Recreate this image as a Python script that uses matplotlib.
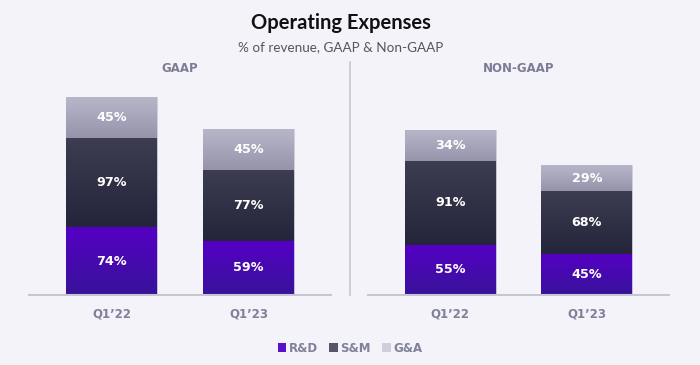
import numpy as np
import matplotlib
matplotlib.use("Agg")
import matplotlib.pyplot as plt
import matplotlib.transforms as mtrans
from matplotlib.colors import LinearSegmentedColormap
from matplotlib.patches import Patch

plt.rcParams["font.family"] = ["Lato", "DejaVu Sans"]

quarters = ["Q1\u201922", "Q1\u201923"]
series = ["R&D", "S&M", "G&A"]
gaap_rd = [74, 59]
gaap_sm = [97, 77]
gaap_ga = [45, 45]
nongaap_rd = [55, 45]
nongaap_sm = [91, 68]
nongaap_ga = [34, 29]

bg = "#f3f3f9"
grads = {"R&D": ("#5500c4", "#38139a"),
         "S&M": ("#3d3d52", "#24243a"),
         "G&A": ("#b8b7ca", "#9594ab")}
legend_cols = {"R&D": "#5a12c8", "S&M": "#56566a", "G&A": "#cfcfdc"}
label_gray = "#80809a"
bold_font = ["DejaVu Sans"]


def draw_panel(ax, rd, sm, ga, title):
    x = np.arange(len(quarters))
    bottom = np.zeros(len(quarters))
    for name, vals in zip(series, [rd, sm, ga]):
        bars = ax.bar(x, vals, 0.664, bottom=bottom, color=grads[name][0],
                      edgecolor="#cdcddc", linewidth=0.6, zorder=2)
        cmap = LinearSegmentedColormap.from_list(name, [grads[name][0], grads[name][1]])
        for b, v in zip(bars, vals):
            x0, y0, w, h = b.get_x(), b.get_y(), b.get_width(), b.get_height()
            # vertical gradient, clipped to the bar
            im = ax.imshow(np.linspace(0, 1, 64).reshape(-1, 1), cmap=cmap,
                           extent=[x0, x0 + w, y0, y0 + h], origin="upper",
                           aspect="auto", zorder=2.5)
            im.set_clip_path(b)
            ax.text(x0 + w / 2, y0 + h / 2, f"{v}%", ha="center", va="center",
                    color="white", fontsize=9.2, fontweight="bold", family=bold_font,
                    zorder=4)
        bottom = bottom + np.array(vals)
    ax.set_xlim(-0.602, 1.602)
    ax.set_ylim(0, 240)
    ax.set_facecolor(bg)
    for s in ["top", "right", "left"]:
        ax.spines[s].set_visible(False)
    ax.spines["bottom"].set_color("#c6c6d4")
    ax.spines["bottom"].set_linewidth(1.5)
    ax.spines["bottom"].set_zorder(5)
    ax.set_yticks([])
    ax.set_xticks(x)
    ax.set_xticklabels(quarters, fontsize=8.5, fontweight="bold", color=label_gray,
                       family=bold_font)
    ax.tick_params(axis="x", length=0, pad=9)
    trans = mtrans.blended_transform_factory(ax.transAxes, ax.figure.transFigure)
    ax.text(0.5, 1 - 68 / 365, title, transform=trans, ha="center", va="center",
            fontsize=8.5, fontweight="bold", color="#7c7c94", family=bold_font)


fig = plt.figure(figsize=(7, 3.65), dpi=100, facecolor=bg)
h = 220 / 365
b0 = 70 / 365
ax1 = fig.add_axes([29 / 700, b0, 302 / 700, h])
ax2 = fig.add_axes([368 / 700, b0, 301 / 700, h])
draw_panel(ax1, gaap_rd, gaap_sm, gaap_ga, "GAAP")
draw_panel(ax2, nongaap_rd, nongaap_sm, nongaap_ga, "NON-GAAP")

fig.add_artist(plt.Line2D([349.5 / 700, 349.5 / 700], [70 / 365, 303 / 365],
                          color="#c8c8d4", linewidth=1.2))

fig.text(341 / 700, 1 - 23 / 365, "Operating Expenses", ha="center", va="center",
         fontsize=14.5, fontweight="bold", color="#111111")
fig.text(341 / 700, 1 - 47 / 365, "% of revenue, GAAP & Non-GAAP", ha="center",
         va="center", fontsize=9.7, color="#555560")

handles = [Patch(facecolor=legend_cols[s], edgecolor="none") for s in series]
leg = fig.legend(handles, series, loc="center", bbox_to_anchor=(0.5, 1 - 348 / 365),
                 ncol=3, frameon=False, handlelength=0.7, handleheight=0.7,
                 handletextpad=0.2, columnspacing=1.0,
                 prop={"size": 8.5, "weight": "bold", "family": bold_font})
for t in leg.get_texts():
    t.set_color(label_gray)

fig.savefig("out.png", dpi=100, facecolor=bg)
